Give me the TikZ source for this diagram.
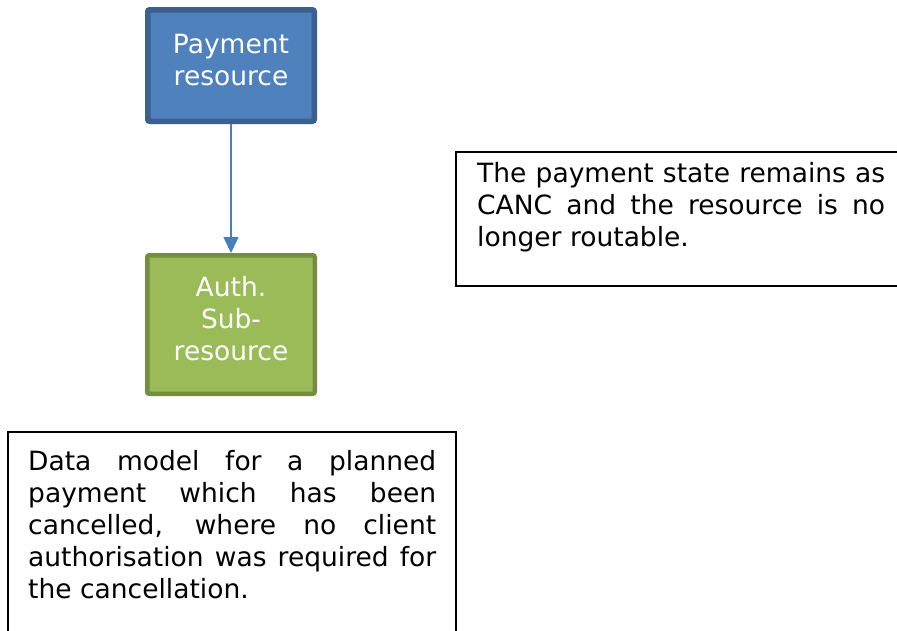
\documentclass[tikz,border=0pt]{standalone}
\usepackage{fontspec}
\setmainfont{DejaVu Sans}
\usetikzlibrary{arrows.meta}
\definecolor{bfill}{HTML}{4F81BD}
\definecolor{bline}{HTML}{3B6090}
\definecolor{gfill}{HTML}{9BBB59}
\definecolor{gline}{HTML}{748E40}
\definecolor{arr}{HTML}{4A7EBB}
\tikzset{
  bigfont/.style={font=\fontsize{26.5}{32}\selectfont},
  bluebox/.style={rectangle, rounded corners=2pt, fill=bfill, draw=bline, line width=5.5pt, minimum width=166.5pt, minimum height=111.5pt, inner sep=0pt},
  greenbox/.style={rectangle, rounded corners=2pt, fill=gfill, draw=gline, line width=4.5pt, minimum width=167.5pt, minimum height=138.5pt, inner sep=0pt},
  boxtext/.style={bigfont, text=white, align=center, inner sep=0pt, anchor=north},
  notebox/.style={rectangle, draw=black, line width=2pt, inner sep=0pt, outer sep=0pt, anchor=north west},
  notetext/.style={bigfont, text=black, text width=408pt, align=justify, inner sep=0pt, anchor=north west},
  conn/.style={draw=arr, line width=1.5pt, -{Triangle[length=16pt,width=15pt]}}
}
\begin{document}
\begin{tikzpicture}[x=1pt,y=-1pt]
\useasboundingbox (0,0) rectangle (897,630);
\clip (0,0) rectangle (897,630);
\fill[white] (0,0) rectangle (897,630);
\node[bluebox] (pay) at (231,65.5) {};
\node[boxtext] (paytxt) at (231,31) {\strut Payment\\resource};
\node[greenbox] (auth) at (231,324.5) {};
\node[boxtext] (authtxt) at (231,273.5) {\strut Auth.\\Sub-\\resource};
\draw[conn] (pay.south) -- (auth.north);
\node[notebox, minimum width=470pt, minimum height=134pt] (note1) at (456,152) {};
\node[notetext] (note1txt) at (477,159.5) {\hyphenpenalty=10000\strut The payment state remains as\linebreak CANC and the resource is no\linebreak longer routable.};
\node[notebox, minimum width=448pt, minimum height=220pt] (note2) at (8,432) {};
\node[notetext] (note2txt) at (28,448) {\hyphenpenalty=10000\strut Data model for a planned\linebreak payment which has been\linebreak cancelled, where no client\linebreak authorisation was required for\linebreak the cancellation.};
\end{tikzpicture}
\end{document}
